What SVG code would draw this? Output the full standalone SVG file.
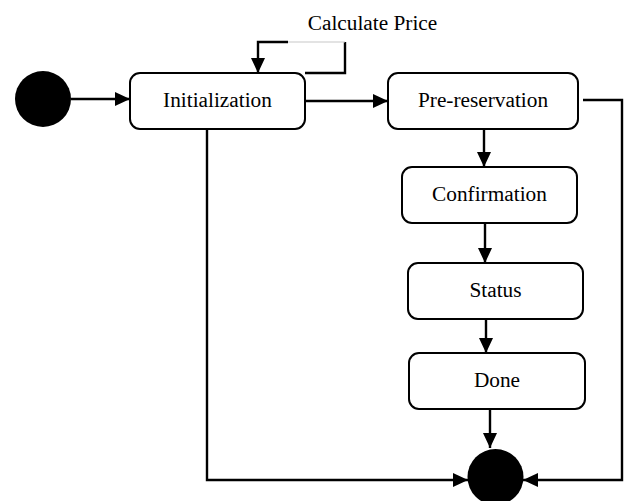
<svg xmlns="http://www.w3.org/2000/svg" width="627" height="501" viewBox="0 0 627 501">
<defs>
<marker id="ah" viewBox="0 0 15 14" refX="15" refY="7" markerWidth="15" markerHeight="14" markerUnits="userSpaceOnUse" orient="auto">
<path d="M0,0 L15,7 L0,14 Z" fill="#000"/>
</marker>
<style>
.box{fill:#fff;stroke:#000;stroke-width:2}
.lbl{font-family:"Liberation Serif","Times New Roman",serif;font-size:21.3px;fill:#000;text-anchor:middle}
.edge{fill:none;stroke:#000;stroke-width:2.4}
</style>
</defs>
<rect width="627" height="501" fill="#fff"/>
<g id="connectors">
<line class="edge" x1="71" y1="99" x2="130" y2="99" marker-end="url(#ah)"/>
<polyline class="edge" points="305,73 345,73 345,42"/>
<line x1="345" y1="42" x2="288" y2="42" stroke="#c8c8c8" stroke-width="1.2"/>
<polyline class="edge" points="288,42 258,42 258,73" marker-end="url(#ah)"/>
<line class="edge" x1="303" y1="101" x2="388" y2="101" marker-end="url(#ah)"/>
<line class="edge" x1="484" y1="129" x2="484" y2="167" marker-end="url(#ah)"/>
<line class="edge" x1="485" y1="223" x2="485" y2="263" marker-end="url(#ah)"/>
<line class="edge" x1="486" y1="319" x2="486" y2="353" marker-end="url(#ah)"/>
<line class="edge" x1="490" y1="409" x2="490" y2="448" marker-end="url(#ah)"/>
<polyline class="edge" points="207,129 207,480 468,480" marker-end="url(#ah)"/>
<polyline class="edge" points="583,100 622,100 622,480 523,480" marker-end="url(#ah)"/>
</g>
<g id="start"><circle cx="43" cy="99" r="28" fill="#000"/></g>
<g id="initialization"><rect class="box" x="130" y="73" width="175" height="56" rx="10"/><text class="lbl" x="217.5" y="107">Initialization</text></g>
<g id="calc-label"><text class="lbl" x="372.5" y="30">Calculate Price</text></g>
<g id="prereservation"><rect class="box" x="388" y="73" width="190" height="56" rx="10"/><text class="lbl" x="483" y="107">Pre-reservation</text></g>
<g id="confirmation"><rect class="box" x="402" y="167" width="175" height="56" rx="10"/><text class="lbl" x="489.5" y="201">Confirmation</text></g>
<g id="status"><rect class="box" x="408" y="263" width="175" height="56" rx="10"/><text class="lbl" x="495.5" y="297">Status</text></g>
<g id="done"><rect class="box" x="409" y="353" width="176" height="56" rx="10"/><text class="lbl" x="497" y="387">Done</text></g>
<g id="end"><circle cx="495.5" cy="477" r="28" fill="#000"/></g>
</svg>
